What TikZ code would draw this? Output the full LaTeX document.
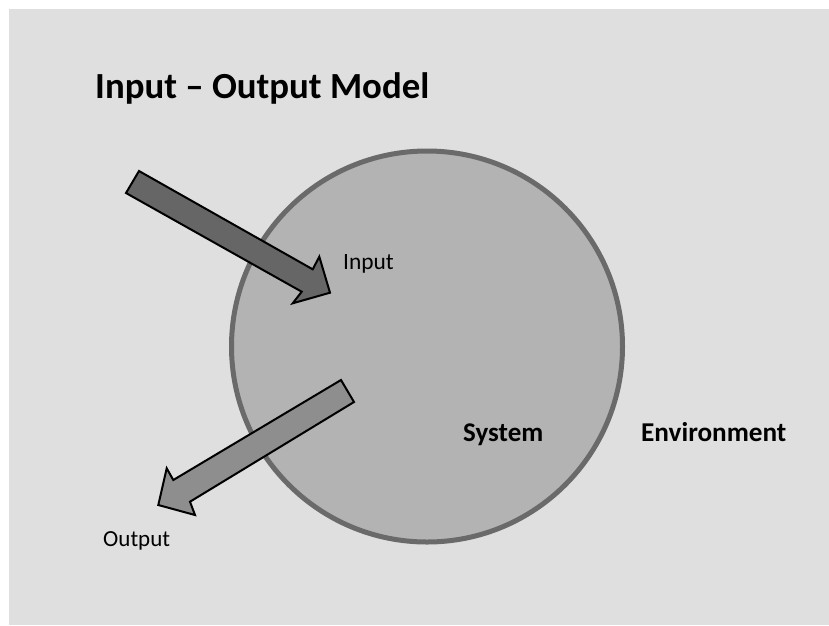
\documentclass[tikz,border=0pt]{standalone}
\usepackage{fontspec}
\setmainfont{Carlito}
\definecolor{bg}{HTML}{DFDFDF}
\definecolor{sysfill}{HTML}{B3B3B3}
\definecolor{sysline}{HTML}{6A6A6A}
\definecolor{infill}{HTML}{666666}
\definecolor{outfill}{HTML}{8E8E8E}
\begin{document}
\begin{tikzpicture}[x=1pt,y=-1pt,
  lbl/.style={anchor=base west,inner sep=0pt,text=black},
  bigarrow/.style={draw=black,line width=2pt,line join=miter}]
\useasboundingbox (0,0) rectangle (829,625);
\fill[bg] (9,9) rectangle (829,625);
\node[circle,draw=sysline,fill=sysfill,line width=5pt,minimum size=391pt,inner sep=0pt] (sys) at (427,346.5) {};
% input arrow
\filldraw[bigarrow,fill=infill] (139,171) -- (312.7,269.3) -- (319.3,256.7) -- (330,292.7) -- (292.7,303.3) -- (301.7,291.7) -- (126,193) -- cycle;
% output arrow
\filldraw[bigarrow,fill=outfill] (341,380) -- (173.3,480) -- (166.7,468.3) -- (158.3,505) -- (195,515) -- (190,501.7) -- (354,402) -- cycle;
\node[lbl,font=\bfseries\fontsize{36.8}{44}\selectfont] (title) at (95,98) {Input – Output Model};
\node[lbl,font=\fontsize{23.4}{26}\selectfont] (inlbl) at (343,269) {Input};
\node[lbl,font=\fontsize{23}{26}\selectfont] (outlbl) at (103,546) {Output};
\node[lbl,font=\bfseries\fontsize{27}{30}\selectfont] (syslbl) at (463,441) {System};
\node[lbl,font=\bfseries\fontsize{27.2}{30}\selectfont] (envlbl) at (641,441) {Environment};
\end{tikzpicture}
\end{document}
